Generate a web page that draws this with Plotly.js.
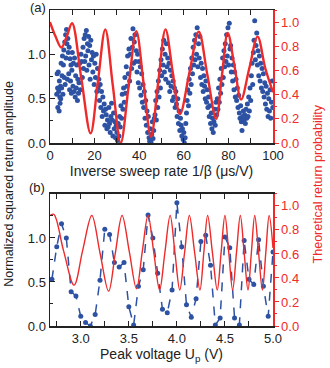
<!DOCTYPE html>
<html><head><meta charset="utf-8">
<script src="https://cdn.plot.ly/plotly-3.0.1.min.js"></script>
<style>html,body{margin:0;padding:0;background:#fff}#chart{width:330px;height:368px}</style>
</head><body><div id="chart"></div>
<script>
// ---- Panel (a): measured squared return amplitude vs inverse sweep rate ----
const sweepX = [
3.0,3.2,3.4,3.5,3.7,3.9,4.1,4.2,4.4,4.5,4.7,4.8,5.0,5.2,5.4,5.6,5.8,6.0,6.2,6.4,6.6,6.8,7.0,7.2,7.4,7.6,7.8,8.0,8.2,8.4,8.6,8.8,9.0,9.2,9.4,9.6,9.8,10.0,10.3,10.5,10.8,11.0,11.3,11.5,11.8,12.0,12.3,12.5,12.8,13.0,13.3,13.6,13.9,
14.2,14.5,14.8,15.0,15.3,15.6,15.8,16.0,16.3,16.5,16.8,17.0,17.3,17.5,17.8,18.0,18.3,18.6,18.9,19.2,19.5,19.8,20.1,20.4,20.7,21.0,21.3,21.6,21.9,22.2,22.5,22.8,23.1,23.4,23.7,24.0,24.3,24.6,24.9,25.2,25.5,25.8,
26.1,26.4,26.7,27.0,27.3,27.6,27.9,28.2,28.5,28.8,29.1,29.4,29.7,30.0,30.3,30.6,30.9,31.2,31.5,31.8,32.1,32.4,32.7,33.0,33.3,33.6,33.9,34.2,34.5,34.8,35.1,35.4,35.7,36.0,36.3,36.6,36.9,37.2,37.5,37.8,38.1,38.4,38.7,39.0,39.3,39.6,39.9,40.2,40.5,40.8,41.1,41.4,41.7,42.0,42.3,42.6,42.9,43.2,43.5,43.8,44.1,44.4,44.7,45.0,45.3,45.6,45.9,46.2,46.5,46.8,
47.1,47.4,47.7,48.0,48.3,48.6,48.9,49.2,49.5,49.8,50.1,50.4,50.7,51.0,51.3,51.6,51.9,52.2,52.5,52.8,53.1,53.4,53.7,54.0,54.3,54.6,54.9,55.2,55.5,55.8,56.1,56.4,56.7,57.0,57.3,57.6,57.9,58.2,58.5,58.8,59.1,59.4,59.7,60.0,60.3,60.6,60.9,61.2,61.5,
61.8,62.1,62.4,62.7,63.0,63.3,63.6,63.9,64.2,64.5,64.8,65.1,65.4,65.7,66.0,66.3,66.6,66.9,67.2,67.5,67.8,68.1,68.4,68.7,69.0,69.3,69.6,69.9,70.2,70.5,70.8,71.1,71.4,71.7,72.0,72.3,72.6,72.9,73.2,73.5,73.8,74.1,74.4,74.7,
75.0,75.3,75.6,75.9,76.2,76.5,76.8,77.1,77.4,77.7,78.0,78.3,78.6,78.9,79.2,79.5,79.8,80.1,80.4,80.7,81.0,81.3,81.6,81.9,82.2,82.5,82.8,83.1,83.4,83.7,84.0,84.3,84.6,84.9,85.2,85.5,85.8,86.1,86.4,86.7,87.0,87.3,87.6,87.9,88.2,88.5,88.8,89.1,89.4,89.7,90.0,90.3,90.6,90.9,91.2,91.5,91.8,92.1,92.4,92.7,93.0,93.3,93.6,93.9,94.2,94.5,94.8,95.1,95.4,95.7,96.0,96.3,96.6,96.9,97.2,97.5,97.8,98.1,98.4,98.7,99.0,99.3,99.6,99.9
];
const ampTop = [
0.55,0.78,0.62,0.40,0.80,0.58,0.36,0.70,0.52,0.45,0.64,0.50,0.90,0.62,0.76,0.98,0.55,0.88,1.05,0.74,1.14,0.66,1.22,0.96,1.28,1.12,0.72,1.18,1.02,0.78,1.08,0.60,0.95,0.70,0.88,0.56,0.82,1.02,0.64,0.90,0.58,0.96,0.52,0.76,0.62,0.88,0.48,0.72,0.56,0.68,0.90,0.60,1.00,
0.92,0.74,1.08,0.84,1.18,0.92,1.22,0.98,1.27,0.82,1.12,1.04,1.20,0.88,1.10,0.72,1.16,0.94,1.02,0.80,0.98,0.66,0.90,0.74,1.00,0.58,0.84,0.62,0.72,0.48,0.66,0.40,0.58,0.30,0.52,0.36,0.44,0.20,0.38,0.32,0.16,0.26,
0.18,0.40,0.22,0.12,0.30,0.45,0.26,0.08,0.34,0.16,
0.24,0.06,0.20,0.12,0.03,0.22,0.08,0.30,0.18,0.42,
0.28,0.55,0.38,0.62,0.46,0.74,0.56,0.86,0.64,0.98,
0.78,1.06,0.70,1.00,1.18,0.84,1.08,1.29,0.90,1.14,
1.22,0.92,1.04,0.80,1.00,0.68,0.92,0.62,0.86,0.54,
0.78,0.46,0.66,0.40,0.58,0.28,0.48,0.20,0.36,0.12,
0.30,0.06,0.02,0.16,0.01,0.10,0.24,0.05,0.14,0.28,
0.32,0.48,0.26,0.58,0.40,0.70,0.52,0.82,0.62,0.94,
0.76,1.06,0.88,1.16,0.80,1.00,0.72,1.12,0.86,0.96,
0.68,0.90,0.58,0.82,0.64,0.76,0.48,0.70,0.52,0.62,
0.40,0.58,0.44,0.30,0.50,0.22,0.36,0.14,0.28,0.20,
0.08,0.16,0.04,0.12,0.00,0.06,0.22,0.34,0.48,
0.60,0.42,0.72,0.56,0.84,0.66,0.96,0.78,1.08,0.88,
1.16,0.94,1.22,1.00,1.30,0.86,1.12,0.96,1.20,0.74,
0.90,0.66,0.84,0.58,0.76,0.64,0.50,0.70,0.46,0.60,
0.40,0.52,0.30,0.42,0.22,0.34,0.16,0.28,0.12,0.24,
0.38,0.20,0.46,0.32,
0.50,0.38,0.62,0.46,0.72,0.56,0.84,0.66,0.96,0.74,
1.04,0.86,1.12,0.92,1.22,0.98,1.30,0.88,1.35,1.06,
1.10,0.80,0.96,0.70,0.88,0.60,0.80,0.52,0.72,0.48,
0.62,0.40,0.54,0.34,0.28,0.42,0.24,0.14,0.30,0.36,
0.26,0.32,0.22,0.38,0.28,0.44,0.30,0.52,0.36,0.62,
0.48,0.76,0.90,0.66,1.02,1.16,1.38,0.94,1.10,1.24,
0.88,1.04,0.76,0.98,0.70,0.90,0.62,0.84,0.58,0.78,
0.52,0.68,0.44,0.64,0.38,0.56,0.30,0.50,0.36,0.60,
0.28,0.46,0.70,0.40
];
// theoretical return probability (right axis), read at extrema and mid-points
const theoryX = [0,2.5,5.1,7.5,9.9,14,18.2,21.5,24.8,28.2,31.7,35.2,38.7,42,45.3,48.5,51.8,55,58.3,62.5,66.7,70.6,74.5,77.1,79.7,82.7,85.7,89.4,93.1,96.5,100];
const theoryTop = [1.0,0.88,0.79,0.88,0.99,0.54,0.08,0.51,0.94,0.47,0.0,0.46,0.925,0.49,0.05,0.50,0.94,0.59,0.24,0.58,0.92,0.56,0.20,0.56,0.91,0.64,0.36,0.62,0.88,0.62,0.42];

// ---- Panel (b): vs peak voltage ----
const peakV = [2.70,2.75,2.80,2.85,2.90,2.95,3.00,3.05,3.10,3.15,3.20,3.25,3.30,3.35,3.40,3.45,3.50,3.55,3.60,3.65,3.70,3.75,3.80,3.85,3.90,3.95,4.00,4.05,4.10,4.15,4.20,4.25,4.30,4.35,4.40,4.45,4.50,4.55,4.60,4.65,4.70,4.75,4.80,4.85,4.90,4.95,5.00];
const ampBottom = [0.53,0.90,1.16,1.00,0.39,0.34,0.11,0.04,0.00,0.13,0.52,1.10,1.04,0.72,0.67,0.72,0.22,0.01,0.45,0.64,1.26,1.00,0.60,0.19,0.15,0.41,1.40,0.90,0.24,0.10,0.31,0.96,1.03,0.69,0.01,0.09,1.01,0.89,0.09,0.01,0.97,0.53,0.47,0.98,0.45,0.11,0.84];
const theoryV = [2.68,2.72,2.82,2.93,3.02,3.115,3.20,3.29,3.36,3.43,3.505,3.58,3.64,3.70,3.76,3.82,3.875,3.93,3.98,4.03,4.08,4.13,4.185,4.24,4.28,4.32,4.37,4.42,4.46,4.50,4.54,4.58,4.62,4.66,4.70,4.74,4.775,4.81,4.85,4.89,4.925,4.96,5.0];
const theoryBottom = [0.92,0.93,0.63,0.34,0.63,0.92,0.61,0.29,0.61,0.92,0.62,0.31,0.62,0.92,0.61,0.30,0.61,0.92,0.61,0.30,0.61,0.92,0.61,0.30,0.61,0.92,0.61,0.30,0.61,0.92,0.61,0.30,0.61,0.92,0.61,0.30,0.61,0.92,0.61,0.30,0.61,0.92,0.65];

const leftTicks = [0, 0.5, 1.0];
const rightTicks = [0, 0.2, 0.4, 0.6, 0.8, 1.0];

const BLUE = '#2d52a3', RED = '#ee2a2a', DARK = '#222';
const FONT = 'Liberation Sans, Arial, sans-serif';

const traces = [
  {x: theoryX, y: theoryTop, xaxis: 'x', yaxis: 'y2', mode: 'lines', line: {color: RED, width: 2.4, shape: 'spline', smoothing: 1}},
  {x: sweepX, y: ampTop, xaxis: 'x', yaxis: 'y', mode: 'markers', marker: {color: BLUE, size: 5}},
  {x: theoryV, y: theoryBottom, xaxis: 'x2', yaxis: 'y4', mode: 'lines', line: {color: RED, width: 1.4, shape: 'spline', smoothing: 1}},
  {x: peakV, y: ampBottom, xaxis: 'x2', yaxis: 'y3', mode: 'lines+markers', line: {color: BLUE, width: 1.5, dash: 'dash'}, marker: {color: BLUE, size: 5}}
];

const xcommon = {showline: true, linecolor: DARK, linewidth: 1.5, mirror: 'allticks', ticks: 'inside', ticklen: 5, tickcolor: DARK, showgrid: false, zeroline: false, tickfont: {size: 13, color: DARK, family: FONT}};
const ylcommon = {showline: true, linecolor: DARK, linewidth: 1.5, ticks: 'inside', ticklen: 5, tickcolor: DARK, showgrid: false, zeroline: false, range: [0, 1.5], tickvals: leftTicks, ticktext: leftTicks.map(v => v.toFixed(1)), tickfont: {size: 13, color: DARK, family: FONT}, minor: {ticks: 'inside', ticklen: 3, dtick: 0.25, tickcolor: DARK}};
const yrcommon = {showline: true, linecolor: RED, linewidth: 1.5, ticks: 'outside', ticklen: 4, tickcolor: RED, side: 'right', showgrid: false, zeroline: false, range: [0, 1.1], tickvals: rightTicks, ticktext: rightTicks.map(v => v.toFixed(1)), tickfont: {size: 13, color: RED, family: FONT}, minor: {ticks: 'outside', ticklen: 2.5, dtick: 0.1, tickcolor: RED}};

const layout = {
  width: 330, height: 368,
  margin: {l: 50, r: 57, t: 10, b: 42},
  paper_bgcolor: '#fff', plot_bgcolor: '#fff',
  showlegend: false,
  font: {family: FONT, color: DARK},
  xaxis: Object.assign({}, xcommon, {domain: [0, 1], anchor: 'y', range: [0, 100], dtick: 20, minor: {ticks: 'inside', ticklen: 3, dtick: 10, tickcolor: DARK},
    title: {text: 'Inverse sweep rate 1/β (μs/V)', font: {size: 14, color: DARK, family: FONT}, standoff: 2}}),
  yaxis: Object.assign({}, ylcommon, {domain: [0.579, 1], anchor: 'x'}),
  yaxis2: Object.assign({}, yrcommon, {domain: [0.579, 1], anchor: 'x', overlaying: 'y'}),
  xaxis2: Object.assign({}, xcommon, {domain: [0, 1], anchor: 'y3', range: [2.68, 5.0], dtick: 0.5, tickformat: '.1f', minor: {ticks: 'inside', ticklen: 3, dtick: 0.25, tickcolor: DARK},
    title: {text: 'Peak voltage U<sub>p</sub> (V)', font: {size: 14, color: DARK, family: FONT}, standoff: 2}}),
  yaxis3: Object.assign({}, ylcommon, {domain: [0, 0.418], anchor: 'x2'}),
  yaxis4: Object.assign({}, yrcommon, {domain: [0, 0.418], anchor: 'x2', overlaying: 'y3'}),
  annotations: [
    {text: '(a)', xref: 'paper', yref: 'paper', x: -0.054, y: 1.008, xanchor: 'center', yanchor: 'middle', showarrow: false, font: {size: 13, color: DARK, family: FONT}},
    {text: '(b)', xref: 'paper', yref: 'paper', x: -0.058, y: 0.437, xanchor: 'center', yanchor: 'middle', showarrow: false, font: {size: 13, color: DARK, family: FONT}},
    {text: 'Normalized squared return amplitude', xref: 'paper', yref: 'paper', x: -0.184, y: 0.45, xanchor: 'center', yanchor: 'middle', textangle: -90, showarrow: false, font: {size: 12.5, color: DARK, family: FONT}},
    {text: 'Theoretical return probability', xref: 'paper', yref: 'paper', x: 1.2, y: 0.45, xanchor: 'center', yanchor: 'middle', textangle: -90, showarrow: false, font: {size: 12.5, color: RED, family: FONT}}
  ]
};

Plotly.newPlot('chart', traces, layout, {displayModeBar: false, staticPlot: true});
</script></body></html>
